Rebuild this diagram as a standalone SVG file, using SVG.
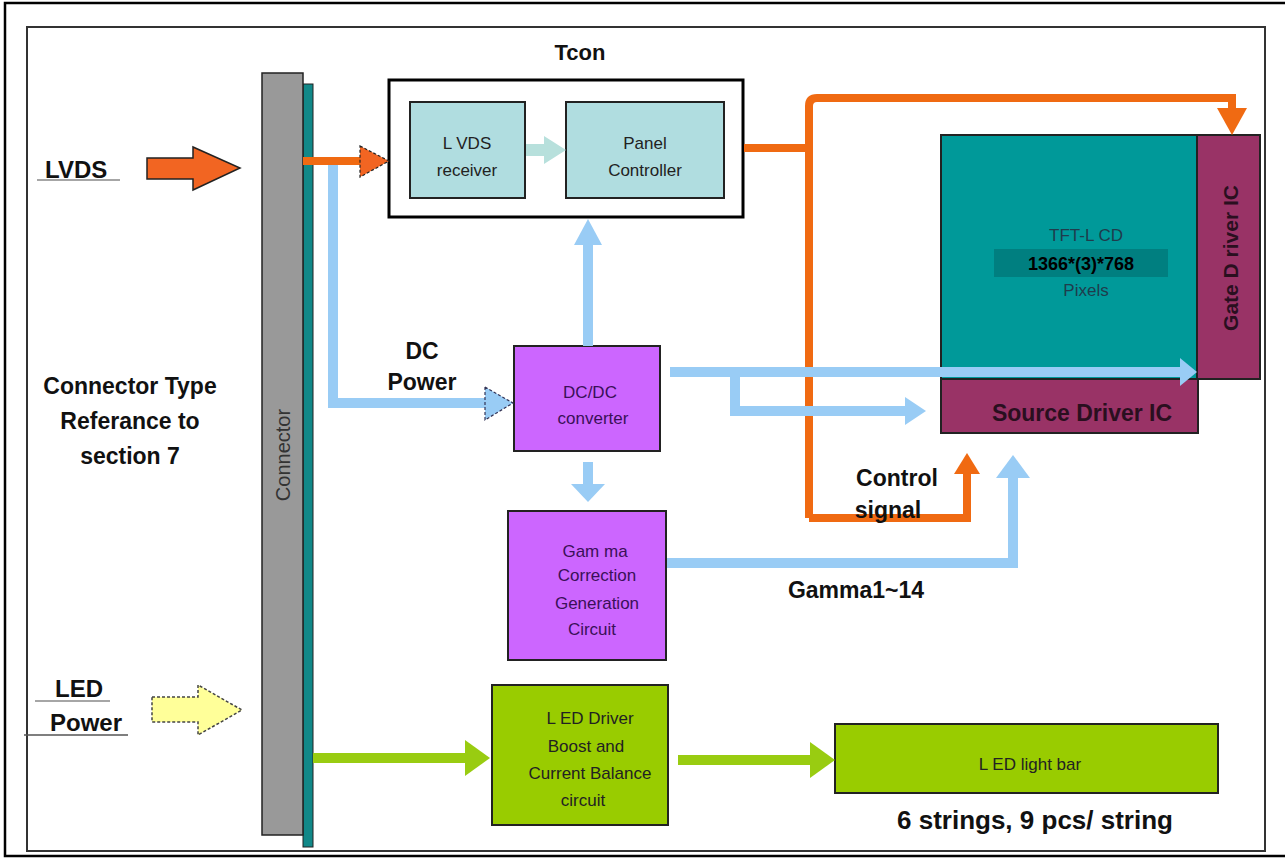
<svg xmlns="http://www.w3.org/2000/svg" width="1285" height="858" viewBox="0 0 1285 858">
<style>
.bold{font-family:"Liberation Sans",Arial,sans-serif;font-weight:bold;fill:#111;}
.reg{font-family:"Liberation Sans",Arial,sans-serif;font-size:17px;fill:#222;text-anchor:middle;}
.pur{fill:#3a1058;}
.box{stroke:#222;stroke-width:2;}
.blue{stroke:#99ccf5;stroke-width:10;fill:none;}
.orange{stroke:#f06a12;stroke-width:8;fill:none;}
.green{stroke:#99cc11;stroke-width:10;fill:none;}
</style>
<rect width="1285" height="858" fill="#ffffff"/>
<g id="frame" fill="none">
<rect x="5" y="3" width="1300" height="853" stroke="#000" stroke-width="2.5"/>
<rect x="27" y="27" width="1238" height="824" stroke="#333" stroke-width="2"/>
</g>
<g id="labels-left">
<text class="bold" x="45" y="178" font-size="24">LVDS</text>
<line x1="37" y1="180" x2="120" y2="180" stroke="#888" stroke-width="1.5"/>
<text class="bold" x="130" y="394" font-size="23" text-anchor="middle">Connector Type</text>
<text class="bold" x="130" y="429" font-size="23" text-anchor="middle">Referance to</text>
<text class="bold" x="130" y="464" font-size="23" text-anchor="middle">section 7</text>
<text class="bold" x="79" y="697" font-size="24" text-anchor="middle">LED</text>
<line x1="35" y1="701" x2="110" y2="701" stroke="#888" stroke-width="1.5"/>
<text class="bold" x="86" y="731" font-size="24" text-anchor="middle">Power</text>
<line x1="24" y1="735" x2="128" y2="735" stroke="#555" stroke-width="1.5"/>
</g>
<g id="lvds-in">
<polygon points="147,158 193,158 193,147 240,168 193,190 193,179 147,179" fill="#f26522" stroke="#222" stroke-width="1.5"/>
</g>
<g id="led-power-in">
<polygon points="152,697 198,697 198,685 242,710 198,735 198,722 152,722" fill="#ffff99" stroke="#444" stroke-width="1.5" stroke-dasharray="3,2"/>
</g>
<g id="connector">
<rect x="303" y="84" width="10" height="763" fill="#118888" stroke="#222" stroke-width="1"/>
<rect x="262" y="73" width="41" height="762" fill="#999999" stroke="#222" stroke-width="1.5"/>
<text x="0" y="0" transform="translate(290,455) rotate(-90)" font-family="Liberation Sans,Arial,sans-serif" font-size="20" fill="#333" text-anchor="middle">Connector</text>
</g>
<g id="tcon">
<rect x="389" y="80" width="354" height="137" fill="#fff" stroke="#000" stroke-width="3"/>
<text class="bold" x="580" y="60" font-size="22" text-anchor="middle">Tcon</text>
</g>
<g id="lvds-receiver">
<rect x="410" y="102" width="115" height="96" fill="#b0dde0" class="box"/>
<text class="reg" x="467" y="149">L VDS</text>
<text class="reg" x="467" y="176">receiver</text>
</g>
<g id="panel-controller">
<rect x="566" y="102" width="158" height="96" fill="#b0dde0" class="box"/>
<text class="reg" x="645" y="149">Panel</text>
<text class="reg" x="645" y="176">Controller</text>
</g>
<g id="dc-power-label">
<text class="bold" x="422" y="359" font-size="23" text-anchor="middle">DC</text>
<text class="bold" x="422" y="390" font-size="23" text-anchor="middle">Power</text>
</g>
<g id="dcdc">
<rect x="514" y="346" width="146" height="105" fill="#cc66ff" class="box"/>
<text class="reg pur" x="590" y="398">DC/DC</text>
<text class="reg pur" x="593" y="424">converter</text>
</g>
<g id="gamma">
<rect x="508" y="511" width="158" height="149" fill="#cc66ff" class="box"/>
<text class="reg pur" x="595" y="557">Gam ma</text>
<text class="reg pur" x="597" y="581">Correction</text>
<text class="reg pur" x="597" y="609">Generation</text>
<text class="reg pur" x="592" y="635">Circuit</text>
</g>
<g id="tft-lcd">
<rect x="941" y="135" width="256" height="244" fill="#009999" class="box"/>
<text class="reg" x="1086" y="241" style="fill:#1f3c4c">TFT-L CD</text>
<rect x="994" y="249" width="174" height="28" fill="#007f80"/>
<text x="1081" y="270" font-family="Liberation Sans,Arial,sans-serif" font-size="18" font-weight="bold" fill="#000" text-anchor="middle">1366*(3)*768</text>
<text class="reg" x="1086" y="296" style="fill:#1f3c4c">Pixels</text>
</g>
<g id="gate-driver">
<rect x="1197" y="135" width="63" height="244" fill="#993366" class="box"/>
<text class="bold" x="0" y="0" transform="translate(1238,258) rotate(-90)" font-size="21" text-anchor="middle" style="fill:#2a0f1f">Gate D river IC</text>
</g>
<g id="source-driver">
<rect x="941" y="379" width="257" height="54" fill="#993366" class="box"/>
<text class="bold" x="1082" y="421" font-size="23" text-anchor="middle" style="fill:#2a0f1f">Source Driver IC</text>
</g>
<g id="led-driver">
<rect x="492" y="685" width="176" height="140" fill="#99cc00" class="box"/>
<text class="reg" x="590" y="724">L ED Driver</text>
<text class="reg" x="586" y="752">Boost and</text>
<text class="reg" x="590" y="779">Current Balance</text>
<text class="reg" x="583" y="806">circuit</text>
</g>
<g id="led-light-bar">
<rect x="835" y="724" width="383" height="69" fill="#99cc00" class="box"/>
<text class="reg" x="1030" y="770">L ED light bar</text>
<text class="bold" x="1035" y="829" font-size="26" text-anchor="middle">6 strings, 9 pcs/ string</text>
</g>
<g id="connectors">
<!-- Tcon inner -->
<line x1="526" y1="150" x2="548" y2="150" stroke="#b7e0dc" stroke-width="12"/>
<polygon points="544,136 566,150 544,164" fill="#b7e0dc"/>
<!-- LVDS orange to Tcon -->
<line x1="303" y1="161" x2="362" y2="161" class="orange" stroke-width="7"/>
<polygon points="360,146 389,161 360,177" fill="#f26522" stroke="#222" stroke-width="1.2" stroke-dasharray="3,2"/>
<!-- DC power blue -->
<polyline points="333,165 333,403 488,403" class="blue" stroke-width="9"/>
<polygon points="485,387 513,403 485,420" fill="#99ccf5" stroke="#335" stroke-width="1.2" stroke-dasharray="3,2"/>
<!-- DC/DC up to Tcon -->
<line x1="588" y1="346" x2="588" y2="240" class="blue"/>
<polygon points="574,245 588,219 602,245" fill="#99ccf5"/>
<!-- DC/DC down to gamma -->
<line x1="588" y1="462" x2="588" y2="488" class="blue"/>
<polygon points="571,484 588,502 605,484" fill="#99ccf5"/>
<!-- orange from panel controller -->
<polyline points="744,148 809,148" class="orange"/>
<path d="M809,518 L809,106 Q809,98 817,98 L1232,98 L1232,112" class="orange"/>
<polygon points="1217,108 1232,135 1247,108" fill="#f06a12"/>
<polyline points="809,518 967,518 967,472" class="orange"/>
<polygon points="954,474 967,453 980,474" fill="#f06a12"/>
<!-- DC/DC right to gate / source -->
<polyline points="670,372 1182,372" class="blue"/>
<polygon points="1180,358 1197,372 1180,386" fill="#99ccf5"/>
<polyline points="735,372 735,411 908,411" class="blue"/>
<polygon points="905,397 926,411 905,425" fill="#99ccf5"/>
<!-- gamma to source -->
<polyline points="667,563 1013,563 1013,474" class="blue"/>
<polygon points="996,478 1013,455 1030,478" fill="#99ccf5"/>
<!-- green -->
<line x1="313" y1="758" x2="468" y2="758" class="green"/>
<polygon points="465,740 490,758 465,776" fill="#99cc11"/>
<line x1="678" y1="760" x2="812" y2="760" class="green"/>
<polygon points="810,742 835,760 810,778" fill="#99cc11"/>
</g>
<g id="signal-labels">
<text class="bold" x="897" y="486" font-size="23" text-anchor="middle">Control</text>
<text class="bold" x="888" y="518" font-size="23" text-anchor="middle">signal</text>
<text class="bold" x="856" y="598" font-size="23" text-anchor="middle">Gamma1~14</text>
</g>
</svg>
